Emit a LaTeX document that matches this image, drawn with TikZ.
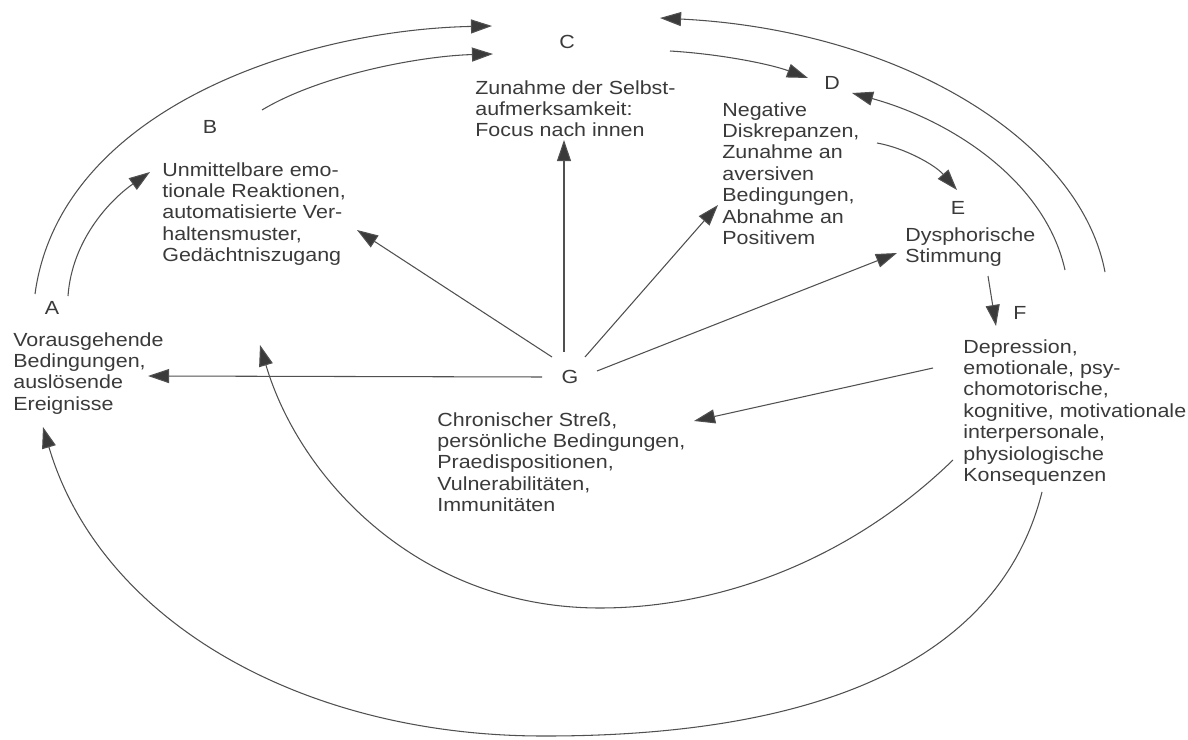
\documentclass[tikz,border=0pt]{standalone}
\usepackage{fontspec}
\setmainfont[FakeStretch=1.13]{Liberation Sans}
\usetikzlibrary{arrows.meta}
\definecolor{ink}{HTML}{3A3A3A}
\definecolor{wire}{HTML}{505050}
\begin{document}
\begin{tikzpicture}[x=0.02cm,y=-0.02cm,
  lbl/.style={inner sep=0pt, text=ink, font=\fontsize{10.8}{12.2}\selectfont},
  txt/.style={inner sep=0pt, anchor=north west, align=left, text=ink, font=\fontsize{10.8}{12.2}\selectfont},
  con/.style={draw=wire, line width=0.6pt, -{Triangle[length=12pt,width=8pt,fill=ink]}}]
\useasboundingbox[fill=white] (0,0) rectangle (1188,740);

% letters
\node[lbl] (A) at (52,308) {A};
\node[lbl] (B) at (210,127) {B};
\node[lbl] (C) at (567,42) {C};
\node[lbl] (D) at (832,83) {D};
\node[lbl] (E) at (958,208) {E};
\node[lbl] (F) at (1020,313) {F};
\node[lbl] (G) at (570,377) {G};

% texts
\node[txt] (At) at (13,332) {Vorausgehende\\Bedingungen,\\auslösende\\Ereignisse};
\node[txt] (Bt) at (162,162) {Unmittelbare emo-\\tionale Reaktionen,\\automatisierte Ver-\\haltensmuster,\\Gedächtniszugang};
\node[txt] (Ct) at (475,80) {Zunahme der Selbst-\\aufmerksamkeit:\\Focus nach innen};
\node[txt] (Dt) at (722,102) {Negative\\Diskrepanzen,\\Zunahme an\\aversiven\\Bedingungen,\\Abnahme an\\Positivem};
\node[txt] (Et) at (905,227) {Dysphorische\\Stimmung};
\node[txt] (Ft) at (963,339) {Depression,\\emotionale, psy-\\chomotorische,\\kognitive, motivationale\\interpersonale,\\physiologische\\Konsequenzen};
\node[txt] (Gt) at (437,412) {Chronischer Streß,\\persönliche Bedingungen,\\Praedispositionen,\\Vulnerabilitäten,\\Immunitäten};

% connector end points
\coordinate (a1) at (35,294);
\coordinate (a2) at (68,296);
\coordinate (b1) at (150,172);
\coordinate (b2) at (262,110);
\coordinate (c1) at (492,26);
\coordinate (c2) at (493,54);
\coordinate (c3) at (670,51);
\coordinate (c4) at (660,18);
\coordinate (d1) at (808,78);
\coordinate (d2) at (852,93);
\coordinate (d3) at (877,143);
\coordinate (e1) at (957,190);
\coordinate (e2) at (988,276);
\coordinate (f1) at (996,326);
\coordinate (f2) at (1065,270);
\coordinate (f3) at (1105,272);
\coordinate (f4) at (933,368);
\coordinate (f5) at (1042,492);
\coordinate (f6) at (953,460);
\coordinate (g1) at (542,377);
\coordinate (g2) at (552,357);
\coordinate (g3) at (564,352);
\coordinate (g4) at (585,357);
\coordinate (g5) at (597,371);
\coordinate (ga) at (148,376);
\coordinate (gb) at (357,230);
\coordinate (gc) at (564,140);
\coordinate (gd) at (718,205);
\coordinate (ge) at (897,253);
\coordinate (gt) at (694,421);
\coordinate (ax) at (43,427);
\coordinate (ab) at (260,345);

% upper chain
\draw[con] (a1) .. controls (60,110) and (300,30) .. (c1);
\draw[con] (a2) .. controls (72,240) and (110,200) .. (b1);
\draw[con] (b2) .. controls (320,75) and (420,56) .. (c2);
\draw[con] (c3) .. controls (720,54) and (770,64) .. (d1);
\draw[con] (d3) .. controls (905,148) and (935,165) .. (e1);
\draw[con] (e2) -- (f1);
\draw[con] (f2) .. controls (1045,180) and (950,120) .. (d2);
\draw[con] (f3) .. controls (1080,140) and (900,30) .. (c4);

% from G
\draw[con] (g1) -- (ga);
\draw[con] (g2) -- (gb);
\draw[con] (g3) -- (gc);
\draw[con] (g4) -- (gd);
\draw[con] (g5) -- (ge);

% from F
\draw[con] (f4) -- (gt);
\draw[con] (f5) .. controls (1000,660) and (820,737) .. (540,736) .. controls (300,735) and (100,620) .. (ax);
\draw[con] (f6) .. controls (850,560) and (720,608) .. (600,608) .. controls (420,608) and (300,480) .. (ab);
\end{tikzpicture}
\end{document}
